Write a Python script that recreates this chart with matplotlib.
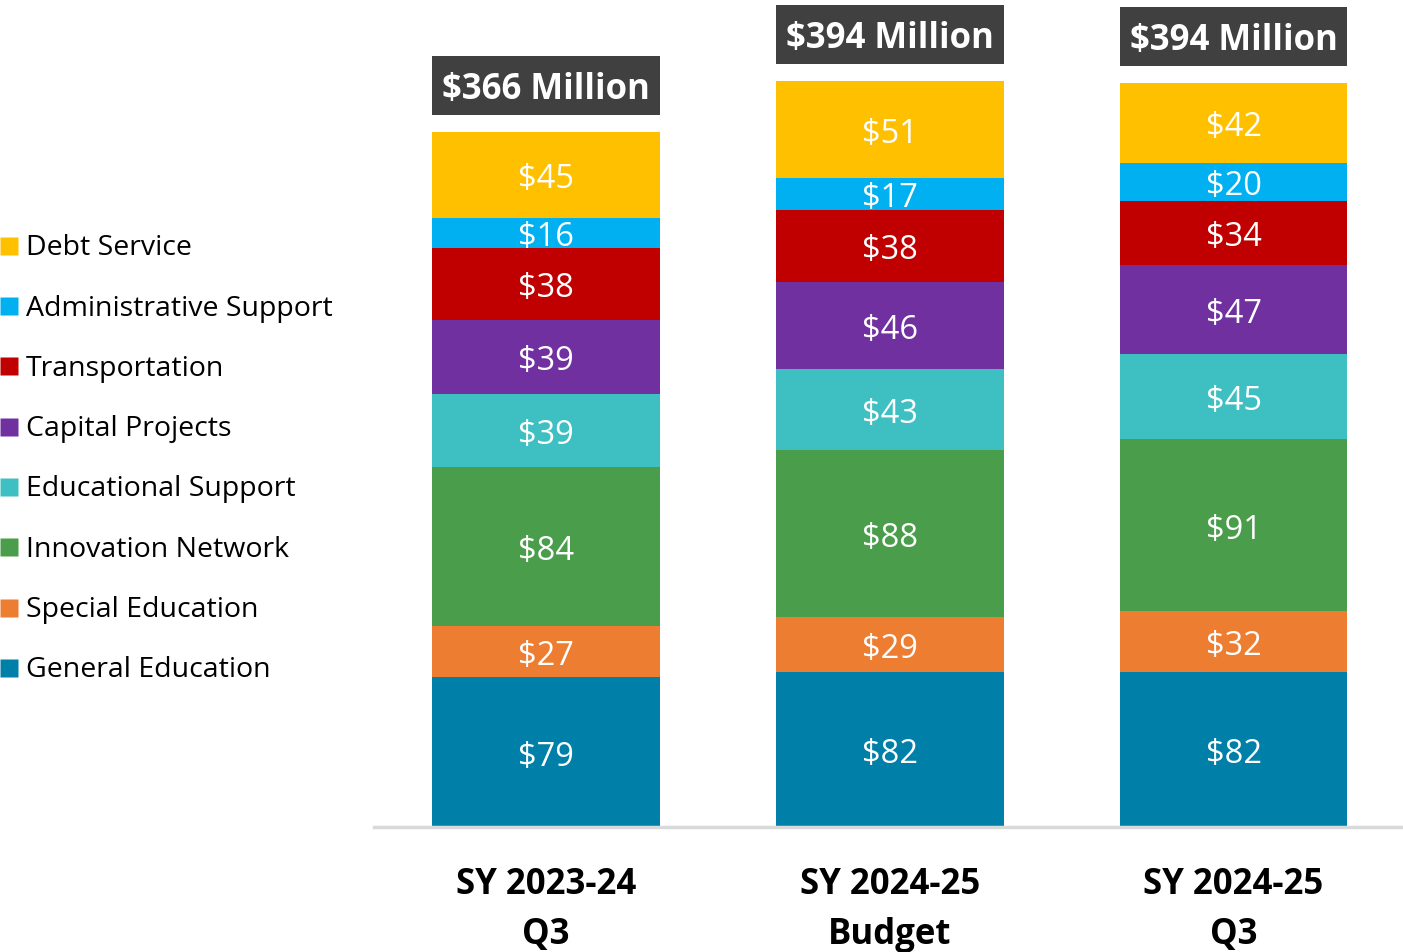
import matplotlib
matplotlib.use("Agg")
import matplotlib.pyplot as plt
from matplotlib.lines import Line2D
import numpy as np

plt.rcParams['font.family'] = ['Open Sans', 'DejaVu Sans']

periods = ["SY 2023-24\nQ3", "SY 2024-25\nBudget", "SY 2024-25\nQ3"]
totals = [366, 394, 394]

# Stack order, bottom to top
categories = ["General Education", "Special Education", "Innovation Network",
              "Educational Support", "Capital Projects", "Transportation",
              "Administrative Support", "Debt Service"]
general_education = [79, 82, 82]
special_education = [27, 29, 32]
innovation_network = [84, 88, 91]
educational_support = [39, 43, 45]
capital_projects = [39, 46, 47]
transportation = [38, 38, 34]
administrative_support = [16, 17, 20]
debt_service = [45, 51, 42]

series = [general_education, special_education, innovation_network,
          educational_support, capital_projects, transportation,
          administrative_support, debt_service]
colors = ["#007FA9", "#ED7D31", "#4A9D4A", "#3EC0C2",
          "#7030A0", "#C00000", "#00B0F0", "#FFC000"]

fig = plt.figure(figsize=(14.03, 9.52), dpi=100)
ax = fig.add_axes([0.2666, 0.1313, 0.7334, 0.8687])

x = np.arange(len(periods))
width = 0.663
bottom = np.zeros(len(periods))
for vals, col in zip(series, colors):
    vals = np.array(vals, dtype=float)
    ax.bar(x, vals, width, bottom=bottom, color=col, edgecolor='none')
    for xi, b, v in zip(x, bottom, vals):
        ax.annotate(f"${v:.0f}", (xi, b + v / 2), xytext=(0, -3.5),
                    textcoords='offset points', ha='center', va='center',
                    color='white', fontsize=23.5)
    bottom += vals

# Total callouts above each stack
gap, box_h = 9, 31.5
for xi, top, tot in zip(x, bottom, totals):
    ax.bar(xi, box_h, width, bottom=top + gap, color='#404040', edgecolor='none')
    ax.annotate(f"${tot} Million", (xi, top + gap + box_h / 2), xytext=(0, -3.5),
                textcoords='offset points', ha='center', va='center',
                color='white', fontsize=25, fontweight='bold')

ax.set_xlim(-0.5, 2.493)
ax.set_ylim(0, 437)
ax.set_xticks(x)
ax.set_xticklabels(periods, fontsize=25, fontweight='bold', linespacing=1.5)
ax.tick_params(axis='x', length=0, pad=29)
ax.set_yticks([])
for s in ['top', 'right', 'left']:
    ax.spines[s].set_visible(False)
ax.spines['bottom'].set_color('#D9D9D9')
ax.spines['bottom'].set_linewidth(2.5)

handles = [Line2D([], [], marker='s', linestyle='none', markersize=13,
                  markerfacecolor=c, markeredgecolor='none', label=l)
           for c, l in zip(colors[::-1], categories[::-1])]
fig.legend(handles=handles, loc='upper left', bbox_to_anchor=(0.0, 0.754),
           frameon=False, fontsize=20.5, handlelength=0.6, handleheight=0.6,
           handletextpad=0.32, labelspacing=1.135, borderaxespad=0, borderpad=0)

fig.savefig("out.png", dpi=100)
